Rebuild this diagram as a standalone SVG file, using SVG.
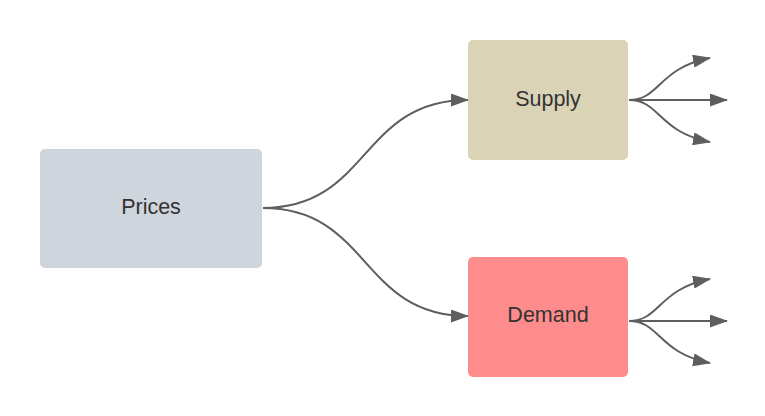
<svg xmlns="http://www.w3.org/2000/svg" width="765" height="416" viewBox="0 0 765 416">
<style>
.lbl{font-family:"Liberation Sans",Arial,sans-serif;font-size:21.5px;fill:#333333;text-anchor:middle;dominant-baseline:central}
.c{fill:none;stroke:#5e5e5e;stroke-width:2}
</style>
<defs>
<marker id="ah" markerWidth="18" markerHeight="13" refX="17" refY="6.5" orient="auto" markerUnits="userSpaceOnUse">
<path d="M0,0 L18,6.5 L0,13 Z" fill="#5e5e5e"/>
</marker>
</defs>
<rect width="765" height="416" fill="#ffffff"/>
<g id="connectors">
<path class="c" marker-end="url(#ah)" d="M263,208 C370,208 360,100 468,100"/>
<path class="c" marker-end="url(#ah)" d="M263,208 C370,208 360,316 468,316"/>
<path class="c" marker-end="url(#ah)" d="M629,100 C660,100 658,68 710,58"/>
<path class="c" marker-end="url(#ah)" d="M629,100 L727,100"/>
<path class="c" marker-end="url(#ah)" d="M629,100 C660,100 658,132 710,142"/>
<path class="c" marker-end="url(#ah)" d="M629,321 C660,321 658,289 710,279"/>
<path class="c" marker-end="url(#ah)" d="M629,321 L727,321"/>
<path class="c" marker-end="url(#ah)" d="M629,321 C660,321 658,353 710,363"/>
</g>
<g id="prices">
<rect x="40" y="149" width="222" height="119" rx="5" fill="#cfd5dd"/>
<text class="lbl" x="151" y="207">Prices</text>
</g>
<g id="supply">
<rect x="468" y="40" width="160" height="120" rx="5" fill="#dad3b6"/>
<text class="lbl" x="548" y="99">Supply</text>
</g>
<g id="demand">
<rect x="468" y="257" width="160" height="120" rx="5" fill="#ff8c8c"/>
<text class="lbl" x="548" y="315">Demand</text>
</g>
</svg>
